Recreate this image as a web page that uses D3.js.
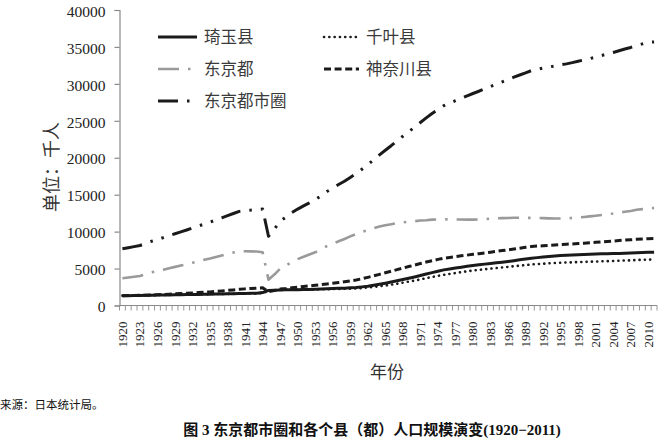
<!DOCTYPE html>
<html><head><meta charset="utf-8">
<script src="https://cdn.jsdelivr.net/npm/d3@7"></script>
<style>
html,body{margin:0;padding:0;background:#fff;}
svg{display:block;}
</style></head>
<body>
<svg id="chart" width="672" height="447"></svg>
<script>
// ---------- data (thousands of persons) ----------
const years = d3.range(1920, 2012);
const tickYears = [1920,1923,1926,1929,1932,1935,1938,1941,1944,1947,1950,1953,1956,1959,1962,1965,1968,1971,1974,1977,1980,1983,1986,1989,1992,1995,1998,2001,2004,2007,2010];
const yTicks = [0,5000,10000,15000,20000,25000,30000,35000,40000];

const saitama = [1320,1335,1350,1365,1380,1394,1407,1420,1433,1446,1459,1473,1487,1501,1515,1529,1545,1560,1576,1592,1608,1630,1650,1670,1750,2047,2080,2100,2120,2135,2146,2160,2180,2200,2230,2263,2290,2320,2350,2390,2431,2520,2620,2740,2870,3015,3170,3340,3510,3690,3866,4060,4260,4450,4640,4821,4950,5070,5190,5310,5420,5510,5600,5690,5780,5864,5960,6070,6180,6290,6405,6480,6560,6630,6700,6759,6800,6840,6880,6910,6938,6970,7000,7020,7040,7054,7080,7110,7140,7170,7195,7210];
const chiba = [1336,1349,1361,1374,1386,1399,1413,1427,1442,1456,1470,1485,1500,1515,1531,1546,1555,1563,1571,1580,1588,1610,1630,1650,1700,1967,2050,2113,2130,2135,2139,2150,2165,2180,2190,2205,2220,2240,2260,2280,2306,2360,2430,2510,2600,2702,2820,2950,3090,3230,3367,3530,3700,3860,4010,4149,4270,4390,4510,4620,4735,4820,4900,4990,5070,5148,5230,5310,5390,5470,5555,5610,5660,5710,5760,5798,5820,5850,5880,5900,5926,5950,5980,6000,6030,6056,6090,6120,6150,6190,6216,6210];
const tokyo = [3699,3800,3900,4000,4250,4485,4650,4850,5050,5230,5409,5600,5800,5990,6180,6370,6580,6780,6980,7170,7355,7350,7330,7300,7200,3488,4183,5001,5418,5897,6278,6600,6900,7200,7600,8037,8350,8700,9000,9350,9684,9950,10200,10450,10700,10869,11000,11150,11250,11350,11408,11500,11550,11620,11650,11674,11660,11650,11640,11630,11618,11650,11700,11750,11800,11829,11850,11880,11870,11860,11856,11850,11830,11800,11780,11774,11800,11850,11920,11990,12064,12150,12250,12350,12450,12577,12700,12800,12950,13050,13159,13196];
const kanagawa = [1323,1340,1360,1380,1400,1417,1455,1495,1535,1580,1620,1660,1705,1750,1795,1840,1900,1970,2040,2110,2189,2250,2300,2350,2400,1866,2020,2218,2300,2400,2488,2570,2650,2740,2830,2919,3010,3110,3210,3320,3443,3620,3810,4010,4220,4431,4640,4850,5060,5270,5472,5680,5880,6060,6240,6398,6500,6610,6720,6820,6924,7020,7120,7220,7320,7432,7540,7650,7760,7870,7980,8040,8090,8140,8190,8246,8290,8340,8390,8440,8490,8550,8610,8670,8730,8792,8850,8900,8960,9000,9048,9060];
const metro = [7678,7824,7971,8119,8416,8695,8925,9192,9460,9712,9958,10218,10492,10756,11021,11285,11580,11873,12167,12452,12740,12840,12910,12970,13050,9368,10333,11432,11968,12567,13051,13480,13895,14320,14850,15424,15870,16370,16820,17340,17864,18450,19060,19710,20390,21017,21630,22290,22910,23540,24113,24770,25390,25990,26540,27042,27380,27720,28060,28380,28697,29000,29320,29650,29970,30273,30580,30910,31200,31490,31796,31980,32140,32280,32430,32577,32710,32880,33070,33240,33418,33620,33840,34040,34250,34479,34720,34930,35200,35410,35618,35676];

const seriesNames = ["琦玉县","千叶县","东京都","神奈川县","东京都市圈"];

// ---------- styles ----------
const styles = {
  "琦玉县":   {color:"#1a1a1a", width:3,   dash:null, cap:"butt"},
  "千叶县":   {color:"#1a1a1a", width:2.6, dash:"0.1,5.2", cap:"round"},
  "东京都":   {color:"#9a9a9a", width:2.6, dash:"21,9,2.5,9", cap:"butt"},
  "神奈川县": {color:"#1a1a1a", width:3,   dash:"7,3.6", cap:"butt"},
  "东京都市圈": {color:"#1a1a1a", width:3, dash:"20,9,2.5,9,2.5,9", cap:"butt"}
};
const seriesData = {"琦玉县":saitama,"千叶县":chiba,"东京都":tokyo,"神奈川县":kanagawa,"东京都市圈":metro};

const svg = d3.select("#chart");
const L = 119.5, R = 657, T = 10, B = 305.5;

const x = d3.scaleBand().domain(years).range([L, R]).padding(0);
const y = d3.scaleLinear().domain([0, 40000]).range([B, T]);
const cx = yr => x(yr) + x.bandwidth()/2;

const serif = "'Liberation Serif','Times New Roman',serif";
const cjk = "'Noto Sans CJK SC','Noto Sans',sans-serif";

// y axis
const yAxis = svg.append("g").attr("transform", `translate(${L},0)`)
  .call(d3.axisLeft(y).tickValues(yTicks).tickSize(5).tickPadding(9).tickFormat(d3.format("d")));
yAxis.select(".domain").attr("stroke","#8a8a8a").attr("stroke-width",1.2);
yAxis.selectAll(".tick line").attr("stroke","#8a8a8a").attr("stroke-width",1.2);
yAxis.selectAll(".tick text").attr("font-family",serif).attr("font-size",15.5).attr("fill","#222").attr("dy","0.4em");

// x axis line and ticks
const xg = svg.append("g");
xg.append("line").attr("x1",L).attr("x2",R).attr("y1",B).attr("y2",B)
  .attr("stroke","#8a8a8a").attr("stroke-width",1.2);
xg.selectAll("line.xt").data(years.concat([2012])).enter().append("line")
  .attr("class","xt")
  .attr("x1", d => d===2012 ? R : x(d)).attr("x2", d => d===2012 ? R : x(d))
  .attr("y1", B).attr("y2", B+5)
  .attr("stroke","#8a8a8a").attr("stroke-width",0.9);
xg.selectAll("text.xl").data(tickYears).enter().append("text")
  .attr("class","xl")
  .attr("transform", d => `translate(${cx(d)+4.5},${B+16}) rotate(-90)`)
  .attr("text-anchor","end")
  .attr("font-family",serif).attr("font-size",13).attr("fill","#222")
  .text(d => d);

// lines
const line = d3.line().x((d,i) => cx(years[i])).y(d => y(d));
seriesNames.forEach(name => {
  const s = styles[name];
  svg.append("path").datum(seriesData[name])
    .attr("d", line)
    .attr("fill","none")
    .attr("stroke", s.color)
    .attr("stroke-width", s.width)
    .attr("stroke-dasharray", s.dash)
    .attr("stroke-linecap", s.cap)
    .attr("stroke-linejoin","round");
});

// legend
const legendItems = [
  {name:"琦玉县", x:158, y:37, len:39},
  {name:"千叶县", x:324, y:37, len:35},
  {name:"东京都", x:158, y:69, len:34},
  {name:"神奈川县", x:324, y:69, len:35},
  {name:"东京都市圈", x:158, y:101, len:34}
];
const lg = svg.append("g");
legendItems.forEach(it => {
  const s = styles[it.name];
  lg.append("line").attr("x1",it.x).attr("x2",it.x+it.len).attr("y1",it.y).attr("y2",it.y)
    .attr("stroke",s.color).attr("stroke-width",s.width)
    .attr("stroke-dasharray",s.dash).attr("stroke-linecap",s.cap);
  lg.append("text").attr("x", it.x + (it.x===158 ? 46 : 42)).attr("y", it.y)
    .attr("dy","0.36em")
    .attr("font-family",cjk).attr("font-size",16.5).attr("fill","#3a3a3a")
    .text(it.name);
});

// axis titles
svg.append("text").attr("transform","translate(52,167) rotate(-90)")
  .attr("text-anchor","middle").attr("dy","0.36em")
  .attr("font-family",cjk).attr("font-size",18).attr("fill","#333")
  .text("单位：千人");
svg.append("text").attr("x",387).attr("y",372).attr("text-anchor","middle").attr("dy","0.36em")
  .attr("font-family",cjk).attr("font-size",17).attr("fill","#333")
  .text("年份");

// source & caption
svg.append("text").attr("x",0).attr("y",405).attr("dy","0.36em")
  .attr("font-family",cjk).attr("font-size",11.5).attr("fill","#111")
  .text("来源：日本统计局。");
svg.append("text").attr("x",372).attr("y",430).attr("dy","0.36em").attr("text-anchor","middle")
  .attr("font-family","'Liberation Serif','Noto Sans CJK SC',serif").attr("font-weight","bold")
  .attr("font-size",15).attr("fill","#111")
  .text("图 3  东京都市圈和各个县（都）人口规模演变(1920−2011)");
</script>
</body></html>
